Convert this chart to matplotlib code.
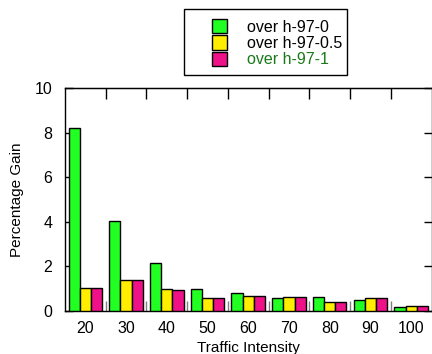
import numpy as np
import matplotlib
matplotlib.use('Agg')
import matplotlib.pyplot as plt
from matplotlib.patches import Patch, Rectangle

plt.rcParams['font.family'] = ['Liberation Sans', 'DejaVu Sans']

intensity = [20, 30, 40, 50, 60, 70, 80, 90, 100]
gain_0 = [8.2, 4.05, 2.15, 0.98, 0.82, 0.6, 0.65, 0.5, 0.17]
gain_05 = [1.05, 1.4, 0.97, 0.6, 0.67, 0.63, 0.39, 0.57, 0.21]
gain_1 = [1.05, 1.4, 0.96, 0.6, 0.66, 0.63, 0.39, 0.57, 0.21]
labels = ['over h-97-0', 'over h-97-0.5', 'over h-97-1']
colors = ['#22ff22', '#ffee00', '#ee1188']

W, H = 432, 354
fig = plt.figure(figsize=(W / 100, H / 100), dpi=100)
ax = fig.add_axes([65 / W, 1 - 311 / H, 366.5 / W, 223 / H])

x = np.array(intensity, dtype=float)
w = 2.75
for i, (vals, c) in enumerate(zip([gain_0, gain_05, gain_1], colors)):
    ax.bar(x + (i - 1) * w, vals, width=w, color=c, edgecolor='black',
           linewidth=1.0, zorder=3)

ax.set_xlim(15, 105)
ax.set_ylim(0, 10)

# labels at group centres, ticks at group boundaries
ax.set_xticks(intensity)
ax.set_xticklabels([str(v) for v in intensity])
ax.tick_params(axis='x', which='major', length=0, labelsize=11.5, pad=7)
bounds = np.arange(25, 100, 10)
ax.set_xticks(bounds, minor=True)
ax.tick_params(axis='x', which='minor', direction='in', length=7,
               color='grey', width=1, top=False, bottom=True)

# top ticks
top = ax.secondary_xaxis('top')
top.set_xticks(bounds)
top.set_xticklabels([])
top.tick_params(direction='in', length=8, width=1, color='black')

ax.set_yticks([0, 2, 4, 6, 8, 10])
ax.tick_params(axis='y', direction='in', length=6, width=1, labelsize=11.5,
               left=True, right=True, pad=9)
for t in ax.yaxis.get_ticklines()[1::2]:
    t.set_color('grey')

for s in ax.spines.values():
    s.set_linewidth(1)

ax.set_xlabel('Traffic Intensity', fontsize=11, labelpad=4)
ax.set_ylabel('Percentage Gain', fontsize=11, labelpad=8)

# legend with a hand-placed frame
handles = [Patch(facecolor=c, edgecolor='black', linewidth=1) for c in colors]
leg = fig.legend(handles, labels, loc='upper left',
                 bbox_to_anchor=(212 / W, 1 - 19 / H), fontsize=11.5,
                 frameon=False, handlelength=0.95, handleheight=1.0,
                 labelspacing=0.05, borderpad=0, handletextpad=1.25,
                 borderaxespad=0)
leg.get_texts()[2].set_color('#1a7a1a')
fig.patches.append(Rectangle((184 / W, 1 - 75 / H), 163 / W, 66 / H,
                             transform=fig.transFigure, fill=False,
                             edgecolor='black', linewidth=1))

fig.savefig('out.png', dpi=100)
